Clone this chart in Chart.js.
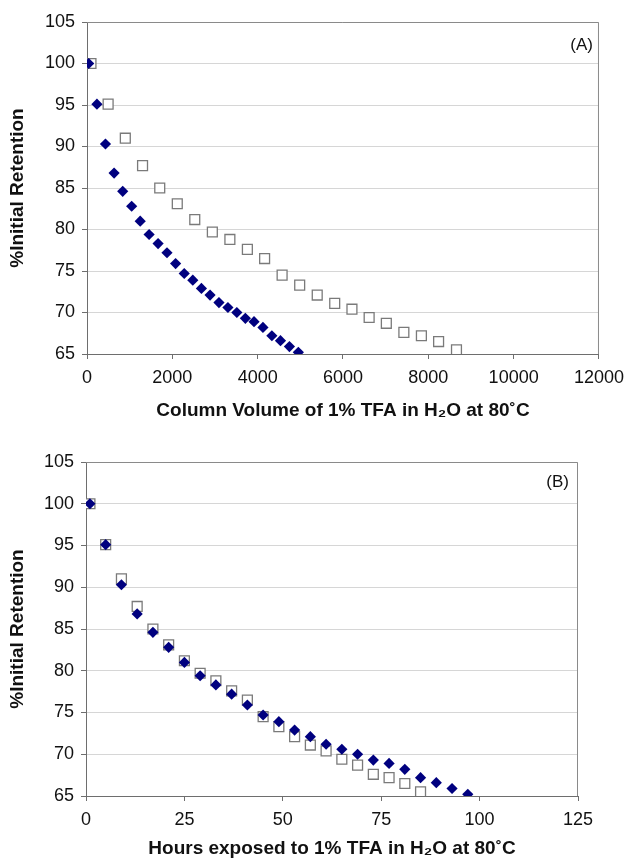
<!DOCTYPE html>
<html>
<head>
<meta charset="utf-8">
<script src="https://cdn.jsdelivr.net/npm/chart.js@4.4.0/dist/chart.umd.min.js"></script>
<style>
    html, body { margin: 0; padding: 0; background: #fff; }
    .panel { position: absolute; left: 0; width: 632px; }
    #panelA { top: 0; height: 432px; }
    #panelB { top: 432px; height: 433px; }
</style>
</head>
<body>
<div class="panel" id="panelA"><canvas id="chartA" width="632" height="432"></canvas></div>
<div class="panel" id="panelB"><canvas id="chartB" width="632" height="433"></canvas></div>
<script>
// Retention of the column under 1% TFA in water at 80 C, two flow rates

// filled diamonds
const retentionFilled = [100.0, 95.1, 90.3, 86.8, 84.6, 82.8, 81.0, 79.4, 78.3, 77.2, 75.9, 74.7, 73.9,
    72.9, 72.1, 71.2, 70.6, 70.0, 69.3, 68.9, 68.2, 67.2, 66.6, 65.9, 65.2];
const volumeFilled = [40, 233, 433, 635, 837, 1047, 1247, 1456, 1666, 1875, 2077, 2279, 2480,
    2682, 2884, 3093, 3303, 3512, 3712, 3915, 4124, 4333, 4535, 4745, 4954];
const hoursFilled = [1, 5, 9, 13, 17, 21, 25, 29, 33, 37, 41, 45, 49,
    53, 57, 61, 65, 69, 73, 77, 81, 85, 89, 93, 97];

// open squares
const retentionOpen = [100.0, 95.1, 91.0, 87.7, 85.0, 83.1, 81.2, 79.7, 78.8, 77.6, 76.5,
    74.5, 73.3, 72.1, 71.1, 70.4, 69.4, 68.7, 67.6, 67.2, 66.5, 65.5];
const volumeOpen = [93, 495, 898, 1302, 1705, 2116, 2526, 2938, 3349, 3759, 4163,
    4573, 4985, 5396, 5806, 6210, 6613, 7016, 7427, 7838, 8241, 8660];
const hoursOpen = [1, 5, 9, 13, 17, 21, 25, 29, 33, 37, 41,
    45, 49, 53, 57, 61, 65, 69, 73, 77, 81, 85];

// axis ticks
const retentionTicks = [65, 70, 75, 80, 85, 90, 95, 100, 105];
const volumeTicks = [0, 2000, 4000, 6000, 8000, 10000, 12000];
const hoursTicks = [0, 25, 50, 75, 100, 125];

const FONT = "'Liberation Sans', Arial, sans-serif";
const AXIS_GREY = '#6e6e6e';

// plot area frame (top + right) and the panel letter
const framePlugin = {
    id: 'frame',
    beforeDatasetsDraw(chart, args, opts) {
        const { ctx, chartArea: a } = chart;
        ctx.save();
        ctx.strokeStyle = '#8a8a8a';
        ctx.lineWidth = 1;
        ctx.beginPath();
        ctx.moveTo(a.left, a.top + 0.5);
        ctx.lineTo(a.right - 0.5, a.top + 0.5);
        ctx.lineTo(a.right - 0.5, a.bottom);
        ctx.stroke();
        ctx.fillStyle = '#111';
        ctx.font = '17px ' + FONT;
        ctx.textAlign = 'right';
        ctx.textBaseline = 'middle';
        ctx.fillText(opts.label, a.right - opts.dx, a.top + opts.dy);
        ctx.restore();
    }
};

function points(xs, ys) {
    return xs.map((x, i) => ({ x: x, y: ys[i] }));
}

function makeChart(id, cfg) {
    const ctx = document.getElementById(id).getContext('2d');
    return new Chart(ctx, {
        type: 'scatter',
        data: {
            datasets: [{
                // first dataset is drawn on top
                data: points(cfg.xFilled, retentionFilled),
                pointStyle: 'rectRot',
                pointRadius: 5.6,
                backgroundColor: '#00007f',
                borderColor: '#00007f',
                borderWidth: 0
            }, {
                data: points(cfg.xOpen, retentionOpen),
                pointStyle: 'rect',
                pointRadius: 7,
                backgroundColor: '#ffffff',
                borderColor: '#7a7a7a',
                borderWidth: 1.3
            }]
        },
        options: {
            responsive: false,
            animation: false,
            events: [],
            layout: {
                autoPadding: false,
                padding: { top: cfg.padTop, right: cfg.padRight, left: 0, bottom: 0 }
            },
            plugins: {
                legend: { display: false },
                tooltip: { enabled: false },
                frame: { label: cfg.label, dx: cfg.labelDx, dy: cfg.labelDy }
            },
            scales: {
                x: {
                    type: 'linear',
                    min: cfg.xTicks[0],
                    max: cfg.xTicks[cfg.xTicks.length - 1],
                    afterBuildTicks: s => { s.ticks = cfg.xTicks.map(v => ({ value: v })); },
                    afterFit: s => { s.height = cfg.xHeight; },
                    grid: { drawOnChartArea: false, tickLength: 5, tickColor: AXIS_GREY },
                    border: { color: AXIS_GREY },
                    ticks: {
                        color: '#111',
                        font: { family: FONT, size: 18 },
                        padding: 8,
                        maxRotation: 0,
                        autoSkip: false,
                        callback: v => String(v)
                    },
                    title: {
                        display: true,
                        text: cfg.xTitle,
                        color: '#111',
                        font: { family: FONT, size: 19, weight: 'bold' },
                        padding: { top: 0, bottom: cfg.titlePad }
                    }
                },
                y: {
                    min: 65,
                    max: 105,
                    afterBuildTicks: s => { s.ticks = retentionTicks.map(v => ({ value: v })); },
                    afterFit: s => { s.width = cfg.yWidth; },
                    grid: { color: '#d6d6d6', tickLength: 5, tickColor: AXIS_GREY },
                    border: { color: AXIS_GREY },
                    ticks: {
                        color: '#111',
                        font: { family: FONT, size: 18 },
                        padding: 7
                    },
                    title: {
                        display: true,
                        text: '%Initial Retention',
                        color: '#111',
                        font: { family: FONT, size: 19, weight: 'bold' },
                        padding: { top: 6, bottom: 0 }
                    }
                }
            }
        },
        plugins: [framePlugin]
    });
}

makeChart('chartA', {
    xFilled: volumeFilled,
    xOpen: volumeOpen,
    xTicks: volumeTicks,
    xTitle: 'Column Volume of 1% TFA in H\u2082O at 80\u02DAC',
    label: '(A)',
    labelDx: 6,
    labelDy: 23,
    padTop: 22,
    padRight: 29,
    yWidth: 87,
    xHeight: 78,
    titlePad: 10
});

makeChart('chartB', {
    xFilled: hoursFilled,
    xOpen: hoursOpen,
    xTicks: hoursTicks,
    xTitle: 'Hours exposed to 1% TFA in H\u2082O at 80\u02DAC',
    label: '(B)',
    labelDx: 9,
    labelDy: 20,
    padTop: 30,
    padRight: 54,
    yWidth: 86,
    xHeight: 69,
    titlePad: 5
});
</script>
</body>
</html>
